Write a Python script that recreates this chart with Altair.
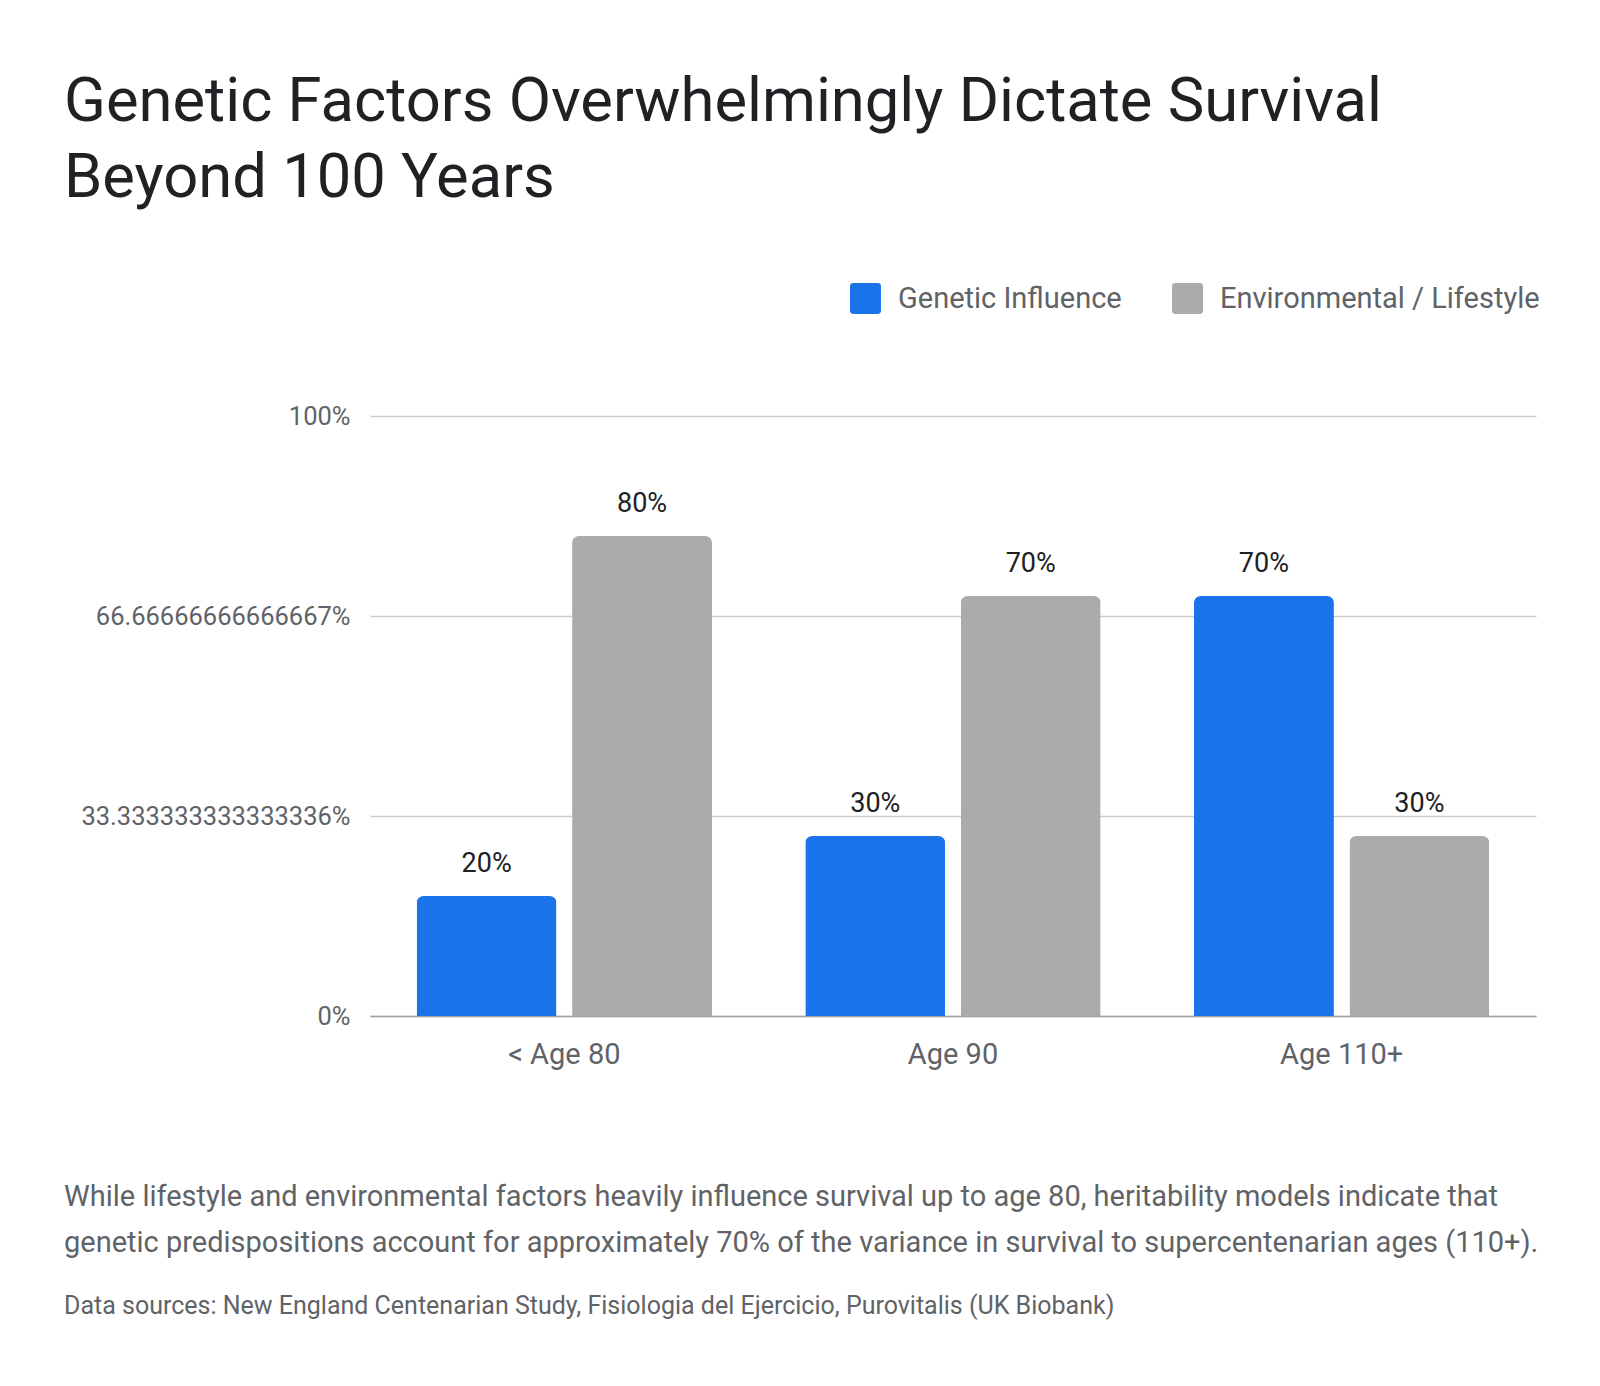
import altair as alt
import pandas as pd

categories = ["< Age 80", "Age 90", "Age 110+"]
series = ["Genetic Influence", "Environmental / Lifestyle"]
genetic = [20, 30, 70]
environmental = [80, 70, 30]
y_ticks = [0, 100 / 3, 200 / 3, 100]
title_lines = ["Genetic Factors Overwhelmingly Dictate Survival", "Beyond 100 Years"]
footer_lines = [
    "While lifestyle and environmental factors heavily influence survival up to age 80, heritability models indicate that",
    "genetic predispositions account for approximately 70% of the variance in survival to supercentenarian ages (110+).",
]
sources_line = "Data sources: New England Centenarian Study, Fisiologia del Ejercicio, Purovitalis (UK Biobank)"

rows = []
for i, c in enumerate(categories):
    rows.append({"category": c, "series": series[0], "value": genetic[i]})
    rows.append({"category": c, "series": series[1], "value": environmental[i]})
df = pd.DataFrame(rows)

FONT = "Roboto"
W, H = 1166, 600
LEFT = -306
ROUND_SQ = ("M-0.78,-1 L0.78,-1 Q1,-1 1,-0.78 L1,0.78 Q1,1 0.78,1 L-0.78,1 "
            "Q-1,1 -1,0.78 L-1,-0.78 Q-1,-1 -0.78,-1 Z")

base = alt.Chart(df).transform_calculate(
    label="datum.value + '%'"
).encode(
    x=alt.X(
        "category:N",
        sort=categories,
        scale=alt.Scale(paddingInner=0.24, paddingOuter=0.12),
        axis=alt.Axis(
            title=None, labelAngle=0, labelFontSize=29, labelColor="#5f6368",
            labelPadding=24, ticks=False, domainColor="#9aa0a6", domainWidth=1.5,
            labelFont=FONT, labelLimit=400,
        ),
    ),
    xOffset=alt.XOffset("series:N", sort=series, scale=alt.Scale(paddingInner=0.1)),
)

bars = base.mark_bar(cornerRadiusTopLeft=7, cornerRadiusTopRight=7).encode(
    y=alt.Y(
        "value:Q",
        scale=alt.Scale(domain=[0, 100]),
        axis=alt.Axis(
            values=y_ticks, labelExpr="datum.value + '%'", title=None,
            labelFontSize=25.5, labelColor="#5f6368", labelPadding=20, labelFont=FONT,
            labelLimit=400, ticks=False, domain=False, gridColor="#cccccc",
            gridWidth=1.5,
        ),
    ),
    color=alt.Color(
        "series:N",
        sort=series,
        scale=alt.Scale(domain=series, range=["#1a73e8", "#ababab"]),
        legend=alt.Legend(
            orient="none", legendX=480, legendY=-133, direction="horizontal",
            title=None, labelFontSize=29, labelColor="#5f6368", labelFont=FONT,
            labelLimit=400, symbolSize=961, symbolType=ROUND_SQ,
            symbolStrokeWidth=0, symbolOpacity=1, columnPadding=50,
            labelOffset=17,
        ),
    ),
)

labels = base.mark_text(
    baseline="alphabetic", dy=-24, fontSize=27, color="#202124", font=FONT
).encode(y="value:Q", text="label:N")

foot1 = alt.Chart(pd.DataFrame({"t": [footer_lines[0]]})).mark_text(
    align="left", baseline="middle", fontSize=29, color="#5f6368", font=FONT
).encode(x=alt.value(LEFT), y=alt.value(781), text="t:N")
foot2 = alt.Chart(pd.DataFrame({"t": [footer_lines[1]]})).mark_text(
    align="left", baseline="middle", fontSize=29, color="#5f6368", font=FONT
).encode(x=alt.value(LEFT), y=alt.value(827), text="t:N")
foot3 = alt.Chart(pd.DataFrame({"t": [sources_line]})).mark_text(
    align="left", baseline="middle", fontSize=25, color="#5f6368", font=FONT
).encode(x=alt.value(LEFT), y=alt.value(890), text="t:N")

chart = alt.layer(bars, labels, foot1, foot2, foot3).properties(
    width=W,
    height=H,
    background="white",
    padding={"left": 56, "top": 63, "right": 30, "bottom": 40},
    title=alt.TitleParams(
        text=title_lines, anchor="start", frame="group", dx=LEFT,
        fontSize=61.5, font=FONT, fontWeight="normal", color="#202124",
        lineHeight=76, offset=74,
    ),
).configure_view(stroke=None)

chart.save("out.html", embed_options={"renderer": "svg", "actions": False})
